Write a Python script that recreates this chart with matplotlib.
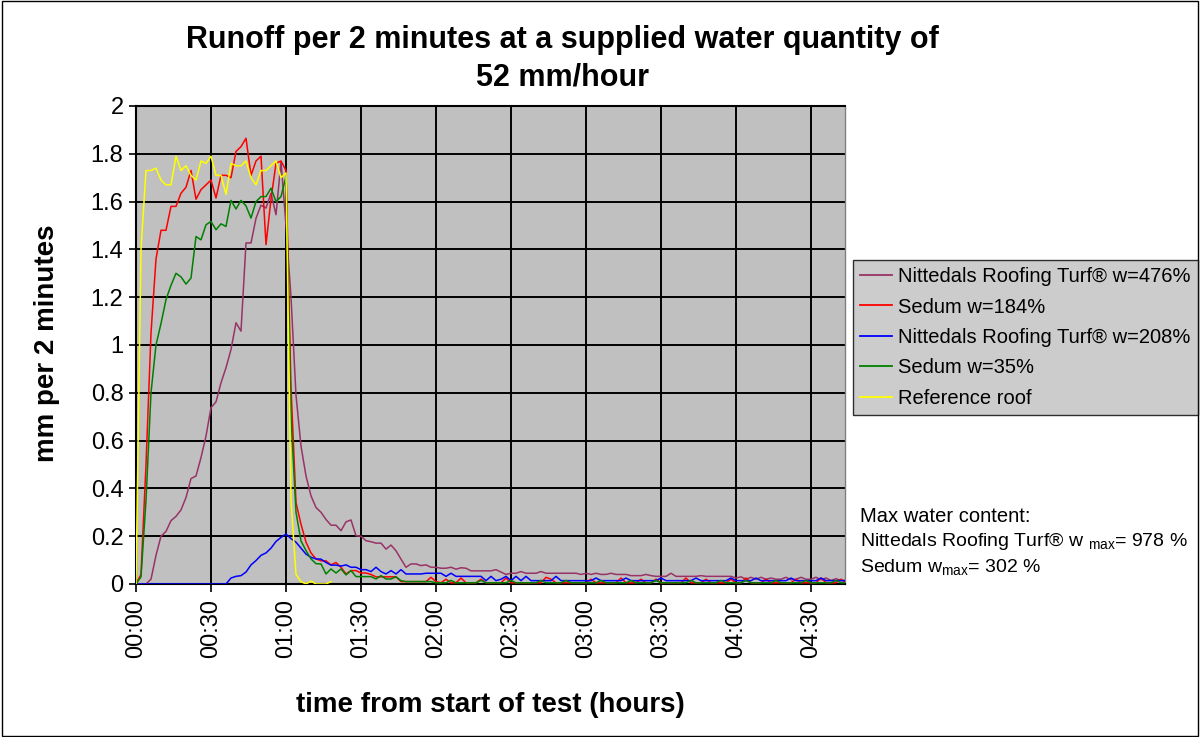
import numpy as np
import matplotlib
matplotlib.use("Agg")
import matplotlib.pyplot as plt
from matplotlib.ticker import FixedLocator, FuncFormatter
from matplotlib.patches import Rectangle

plt.rcParams['font.family'] = ['Liberation Sans', 'DejaVu Sans']
plt.rcParams['mathtext.fontset'] = 'custom'
plt.rcParams['mathtext.rm'] = 'Liberation Sans'
plt.rcParams['mathtext.it'] = 'Liberation Sans'

# ---------------- data (mm per 2 minutes, one value every 2 minutes) -------------
step_min = 2
x_tick_labels = ["00:00", "00:30", "01:00", "01:30", "02:00",
                 "02:30", "03:00", "03:30", "04:00", "04:30"]
series_names = ["Nittedals Roofing Turf® w=476%", "Sedum w=184%",
                "Nittedals Roofing Turf® w=208%", "Sedum w=35%", "Reference roof"]

turf_476 = [
    0, 0, 0, 0.02, 0.12, 0.20, 0.22, 0.265, 0.283, 0.31,
    0.362, 0.441, 0.452, 0.529, 0.619, 0.738, 0.762, 0.842, 0.905, 0.981,
    1.093, 1.058, 1.427, 1.427, 1.53, 1.585, 1.573, 1.635, 1.545, 1.767,
    1.50, 1.20, 0.79, 0.577, 0.452, 0.369, 0.32, 0.30, 0.27, 0.246,
    0.246, 0.223, 0.26, 0.268, 0.202, 0.20, 0.181, 0.177, 0.171, 0.171,
    0.146, 0.163, 0.139, 0.104, 0.07, 0.084, 0.084, 0.077, 0.08, 0.07,
    0.07, 0.066, 0.066, 0.07, 0.062, 0.068, 0.066, 0.055, 0.055, 0.055,
    0.055, 0.055, 0.06, 0.05, 0.04, 0.045, 0.045, 0.052, 0.045, 0.045,
    0.045, 0.052, 0.045, 0.045, 0.045, 0.045, 0.045, 0.045, 0.045, 0.04,
    0.045, 0.04, 0.045, 0.04, 0.04, 0.045, 0.04, 0.04, 0.04, 0.035,
    0.035, 0.035, 0.04, 0.035, 0.032, 0.032, 0.032, 0.045, 0.032, 0.032,
    0.032, 0.032, 0.032, 0.035, 0.032, 0.032, 0.032, 0.032, 0.032, 0.032,
    0.025, 0.03, 0.02, 0.028, 0.02, 0.028, 0.02, 0.025, 0.02, 0.02,
    0.028, 0.018, 0.02, 0.028, 0.02, 0.02, 0.028, 0.018, 0.025, 0.015,
    0.022, 0.015, 0.015,
]

sedum_184 = [
    0, 0.04, 0.50, 1.05, 1.36, 1.48, 1.48, 1.58, 1.58, 1.635,
    1.66, 1.73, 1.61, 1.65, 1.67, 1.69, 1.615, 1.71, 1.71, 1.70,
    1.81, 1.83, 1.865, 1.71, 1.77, 1.79, 1.42, 1.61, 1.76, 1.77,
    1.73, 0.82, 0.34, 0.25, 0.175, 0.13, 0.105, 0.097, 0.097, 0.08,
    0.09, 0.07, 0.042, 0.056, 0.056, 0.046, 0.046, 0.04, 0.03, 0.03,
    0.03, 0.03, 0.03, 0.01, 0.01, 0.01, 0.01, 0.01, 0.01, 0.028,
    0.01, 0.005, 0.02, 0.005, 0.005, 0.025, 0.005, 0.005, 0.005, 0.02,
    0.005, 0.005, 0.005, 0.005, 0.025, 0.005, 0.005, 0.005, 0.005, 0.005,
    0.005, 0.005, 0.028, 0.02, 0.005, 0.005, 0.005, 0.005, 0.005, 0.005,
    0.005, 0.02, 0.005, 0.005, 0.005, 0.005, 0.005, 0.025, 0.005, 0.005,
    0.005, 0.02, 0.005, 0.005, 0.02, 0.005, 0.005, 0.005, 0.005, 0.005,
    0.025, 0.005, 0.005, 0.005, 0.02, 0.005, 0.005, 0.005, 0.005, 0.02,
    0.005, 0.005, 0.025, 0.005, 0.005, 0.005, 0.02, 0.005, 0.005, 0.005,
    0.005, 0.005, 0.02, 0.005, 0.005, 0.005, 0.005, 0.025, 0.005, 0.005,
    0.005, 0.02, 0.005,
]

turf_208 = [
    0, 0, 0, 0, 0, 0, 0, 0, 0, 0,
    0, 0, 0, 0, 0, 0, 0, 0, 0, 0.025,
    0.032, 0.035, 0.05, 0.08, 0.098, 0.12, 0.13, 0.15, 0.178, 0.195,
    0.209, 0.19, 0.175, 0.15, 0.125, 0.112, 0.105, 0.104, 0.09, 0.079,
    0.079, 0.075, 0.08, 0.07, 0.07, 0.06, 0.06, 0.052, 0.07, 0.052,
    0.042, 0.056, 0.042, 0.06, 0.042, 0.042, 0.042, 0.042, 0.045, 0.045,
    0.045, 0.045, 0.032, 0.045, 0.032, 0.032, 0.032, 0.032, 0.032, 0.032,
    0.014, 0.032, 0.014, 0.02, 0.032, 0.014, 0.032, 0.014, 0.032, 0.014,
    0.014, 0.014, 0.014, 0.014, 0.032, 0.014, 0.014, 0.014, 0.014, 0.014,
    0.014, 0.014, 0.025, 0.014, 0.014, 0.014, 0.014, 0.014, 0.025, 0.014,
    0.014, 0.014, 0.014, 0.014, 0.014, 0.025, 0.014, 0.014, 0.014, 0.014,
    0.014, 0.014, 0.025, 0.014, 0.014, 0.014, 0.014, 0.014, 0.014, 0.025,
    0.014, 0.014, 0.014, 0.014, 0.025, 0.014, 0.014, 0.014, 0.014, 0.014,
    0.014, 0.025, 0.014, 0.014, 0.014, 0.014, 0.014, 0.025, 0.014, 0.014,
    0.014, 0.014, 0.014,
]

sedum_35 = [
    0, 0.03, 0.35, 0.80, 1.00, 1.09, 1.19, 1.25, 1.30, 1.285,
    1.255, 1.28, 1.454, 1.44, 1.503, 1.517, 1.482, 1.507, 1.496, 1.605,
    1.569, 1.605, 1.582, 1.531, 1.60, 1.621, 1.621, 1.656, 1.60, 1.621,
    1.705, 0.70, 0.30, 0.18, 0.14, 0.105, 0.085, 0.084, 0.042, 0.063,
    0.046, 0.063, 0.038, 0.056, 0.031, 0.031, 0.031, 0.031, 0.021, 0.035,
    0.021, 0.021, 0.03, 0.014, 0.01, 0.01, 0.01, 0.01, 0.01, 0.01,
    0.005, 0.005, 0.005, 0.015, 0.005, 0.005, 0.005, 0.005, 0.005, 0.015,
    0.005, 0.005, 0.005, 0.005, 0.005, 0.015, 0.005, 0.005, 0.005, 0.005,
    0.005, 0.015, 0.005, 0.005, 0.005, 0.005, 0.015, 0.005, 0.005, 0.005,
    0.005, 0.005, 0.005, 0.015, 0.005, 0.005, 0.005, 0.005, 0.005, 0.015,
    0.005, 0.005, 0.005, 0.005, 0.015, 0.005, 0.005, 0.005, 0.005, 0.005,
    0.005, 0.015, 0.005, 0.005, 0.005, 0.005, 0.005, 0.015, 0.005, 0.005,
    0.005, 0.005, 0.015, 0.005, 0.005, 0.005, 0.005, 0.005, 0.015, 0.005,
    0.005, 0.005, 0.005, 0.005, 0.015, 0.005, 0.005, 0.005, 0.005, 0.005,
    0.015, 0.005, 0.005,
]

reference_roof = [
    0, 1.40, 1.73, 1.73, 1.74, 1.69, 1.67, 1.67, 1.79, 1.73,
    1.75, 1.71, 1.69, 1.77, 1.76, 1.79, 1.71, 1.71, 1.63, 1.76,
    1.75, 1.75, 1.77, 1.70, 1.67, 1.73, 1.73, 1.75, 1.77, 1.70,
    1.72, 0.35, 0.04, 0.01, 0.0, 0.012, 0.0, 0.0, 0.0, 0.01,
]

series_values = [turf_476, sedum_184, turf_208, sedum_35, reference_roof]
series_colors = ["#993366", "#FF0000", "#0000FF", "#008000", "#FFFF00"]

# ---------------- figure ----------------
fig = plt.figure(figsize=(12, 7.37), dpi=100)
fig.patch.set_facecolor("white")
fig.patches.append(Rectangle((0.002, 0.002), 0.996, 0.996, transform=fig.transFigure,
                             fill=False, edgecolor="black", linewidth=1.0))

L, R, T, B = 136, 845, 106, 584
ax = fig.add_axes([L / 1200, 1 - B / 737, (R - L) / 1200, (B - T) / 737])
ax.set_facecolor("#C0C0C0")

for name, vals, col in zip(series_names, series_values, series_colors):
    t = np.arange(len(vals)) * step_min
    ax.plot(t, vals, color=col, lw=1.1, label=name, zorder=3)

ax.set_xlim(0, 283.6)
ax.set_ylim(0, 2)
ax.xaxis.set_major_locator(FixedLocator(np.arange(len(x_tick_labels)) * 30))
ax.set_xticklabels(x_tick_labels, rotation=90, fontsize=17)
ax.yaxis.set_major_locator(FixedLocator(np.round(np.arange(0, 2.01, 0.2), 1)))
ax.yaxis.set_major_formatter(FuncFormatter(lambda v, p: "%g" % v))
ax.tick_params(axis="y", labelsize=17, length=5, width=1.2, direction="out", pad=4)
ax.tick_params(axis="x", length=6, width=1.2, direction="out", pad=5)
ax.grid(True, color="black", lw=1.4, zorder=1)
ax.set_axisbelow(True)
for s in ["left", "bottom", "top"]:
    ax.spines[s].set_color("black")
    ax.spines[s].set_linewidth(1.5)
ax.spines["right"].set_color("#808080")
ax.spines["right"].set_linewidth(1.0)

# titles / labels
fig.text(562 / 1200, 1 - 40 / 737, "Runoff per 2 minutes at a supplied water quantity of",
         ha="center", va="center", fontsize=22, fontweight="bold")
fig.text(562 / 1200, 1 - 78 / 737, "52 mm/hour",
         ha="center", va="center", fontsize=22, fontweight="bold")
fig.text(490.5 / 1200, 1 - 705 / 737, "time from start of test (hours)",
         ha="center", va="center", fontsize=20, fontweight="bold")
fig.text(47 / 1200, 1 - 343 / 737, "mm per 2 minutes", rotation=90,
         ha="center", va="center", fontsize=20, fontweight="bold")

leg = fig.legend(loc="upper left", bbox_to_anchor=(853 / 1200, 1 - 260 / 737),
                 fontsize=14.5, frameon=True, fancybox=False, handlelength=1.6,
                 handletextpad=0.3, labelspacing=0.57, borderpad=0.35,
                 borderaxespad=0)
leg.get_frame().set_facecolor("#C0C0C0")
leg.get_frame().set_edgecolor("black")
leg.get_frame().set_linewidth(1.0)
for line in leg.get_lines():
    line.set_linewidth(1.3)

fig.text(860 / 1200, 1 - 516 / 737, "Max water content:", ha="left", va="center", fontsize=14.5)
fig.text(860 / 1200, 1 - 541 / 737, r"Nittedals Roofing Turf® w $_{\rm max}$= 978 %",
         ha="left", va="center", fontsize=14)
fig.text(860 / 1200, 1 - 567 / 737, r"Sedum w$_{\rm max}$= 302 %",
         ha="left", va="center", fontsize=14)

fig.savefig("out.png", dpi=100)
